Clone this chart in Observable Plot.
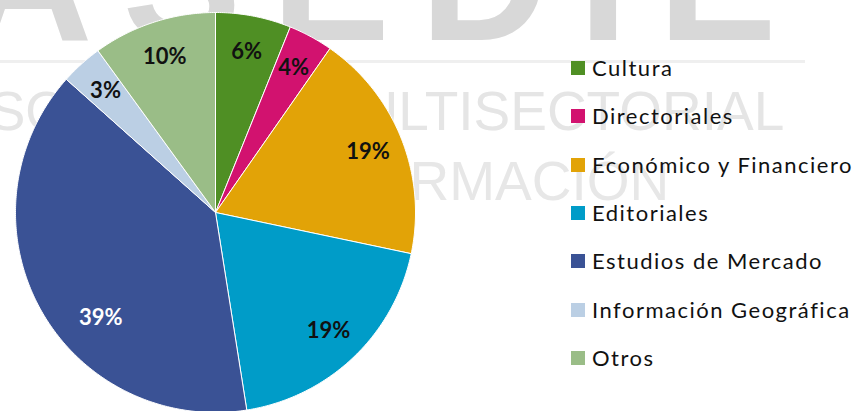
<!DOCTYPE html>
<html>
<head>
<meta charset="utf-8">
<script src="https://cdn.jsdelivr.net/npm/d3@7"></script>
<script src="https://cdn.jsdelivr.net/npm/@observablehq/plot@0.6"></script>
<style>
html, body { margin: 0; padding: 0; background: #fff; overflow: hidden; }
#wrap { position: relative; width: 855px; height: 411px; overflow: hidden; font-family: Lato, "Open Sans", sans-serif; }
.wm { position: absolute; white-space: nowrap; font-family: "Liberation Sans", Arial, sans-serif; line-height: 1; }
#wm1 { left: -36px; top: -110px; font-size: 178px; font-weight: bold; color: #d8d8d8; letter-spacing: 30px; }
#wm2 { left: -48px; top: 84px; font-size: 55px; color: #e5e5e5; }
#wm3 { left: 107px; top: 154px; font-size: 55px; color: #e7e7e7; }
#wmline { position: absolute; left: 0; top: 60px; width: 805px; height: 3px; background: #efefef; }
#chart { position: absolute; left: 0; top: 0; }
#legend { position: absolute; left: 0; top: 0; }
.row { position: absolute; left: 571px; height: 22px; display: flex; align-items: center; white-space: nowrap; }
.sw { width: 14px; height: 14px; margin-right: 7px; flex: none; }
.lt { font-size: 22px; line-height: 1; color: #111; letter-spacing: 1.5px; }
</style>
</head>
<body>
<div id="wrap">
  <div class="wm" id="wm1">ASEDIE</div>
  <div id="wmline"></div>
  <div class="wm" id="wm2">ASOCIACIÓN MULTISECTORIAL</div>
  <div class="wm" id="wm3">DE LA INFORMACIÓN</div>
  <div id="chart"></div>
  <div id="legend"></div>
</div>
<script>
// ---- data ----
const categories = ["Cultura", "Directoriales", "Económico y Financiero", "Editoriales", "Estudios de Mercado", "Información Geográfica", "Otros"];
const shares = [6.1, 3.6, 18.6, 19.2, 39.1, 3.4, 10.0];
const percentLabels = ["6%", "4%", "19%", "19%", "39%", "3%", "10%"];
const palette = ["#4f8f24", "#d2126f", "#e2a307", "#009cc8", "#3a5295", "#bbcfe4", "#9abd87"];

// ---- build slices ----
const table = categories.map((c, i) => ({category: c, share: shares[i], label: percentLabels[i], color: palette[i]}));
const arcs = d3.pie().sort(null).value(d => d.share)(table);

const points = [];
for (const a of arcs) {
  const n = Math.max(4, Math.ceil((a.endAngle - a.startAngle) / 0.01));
  points.push({category: a.data.category, px: 0, py: 0});
  for (let k = 0; k <= n; k++) {
    const t = a.startAngle + (a.endAngle - a.startAngle) * k / n;
    points.push({category: a.data.category, px: Math.sin(t), py: Math.cos(t)});
  }
  points.push({category: a.data.category, px: 0, py: 0});
}

// Labels at mid-angle; the big slice's label sits a bit off-centre (best-fit style)
const labelRows = arcs.map(a => {
  const m = (a.startAngle + a.endAngle) / 2;
  const big = (a.endAngle - a.startAngle) > Math.PI * 0.6;
  const ang = big ? m - (a.endAngle - a.startAngle) * 0.10 : m;
  const r = big ? 0.78 : 0.82;
  return {
    category: a.data.category,
    label: a.data.label,
    dark: d3.lab(a.data.color).l < 42,
    px: r * Math.sin(ang),
    py: r * Math.cos(ang)
  };
});

const plot = Plot.plot({
  width: 855,
  height: 411,
  margin: 0,
  style: {background: "transparent", overflow: "visible"},
  x: {domain: [-1, 1], range: [15, 415], axis: null},
  y: {domain: [-1, 1], range: [412, 12], axis: null},
  color: {domain: categories, range: palette},
  marks: [
    Plot.line(points, {x: "px", y: "py", z: "category", fill: "category", stroke: "#ffffff", strokeWidth: 1, strokeLinejoin: "round", curve: "linear"}),
    Plot.text(labelRows.filter(d => !d.dark), {x: "px", y: "py", text: "label", fill: "#111", fontSize: 22, fontWeight: "bold", fontFamily: "Lato, sans-serif"}),
    Plot.text(labelRows.filter(d => d.dark), {x: "px", y: "py", text: "label", fill: "#ffffff", fontSize: 22, fontWeight: "bold", fontFamily: "Lato, sans-serif"})
  ]
});
document.getElementById("chart").appendChild(plot);

// ---- legend ----
const legend = d3.select("#legend");
table.forEach((d, i) => {
  const row = legend.append("div").attr("class", "row").style("top", (68 - 11 + i * 48.3) + "px");
  row.append("div").attr("class", "sw").style("background", d.color);
  row.append("div").attr("class", "lt").text(d.category);
});
</script>
</body>
</html>
